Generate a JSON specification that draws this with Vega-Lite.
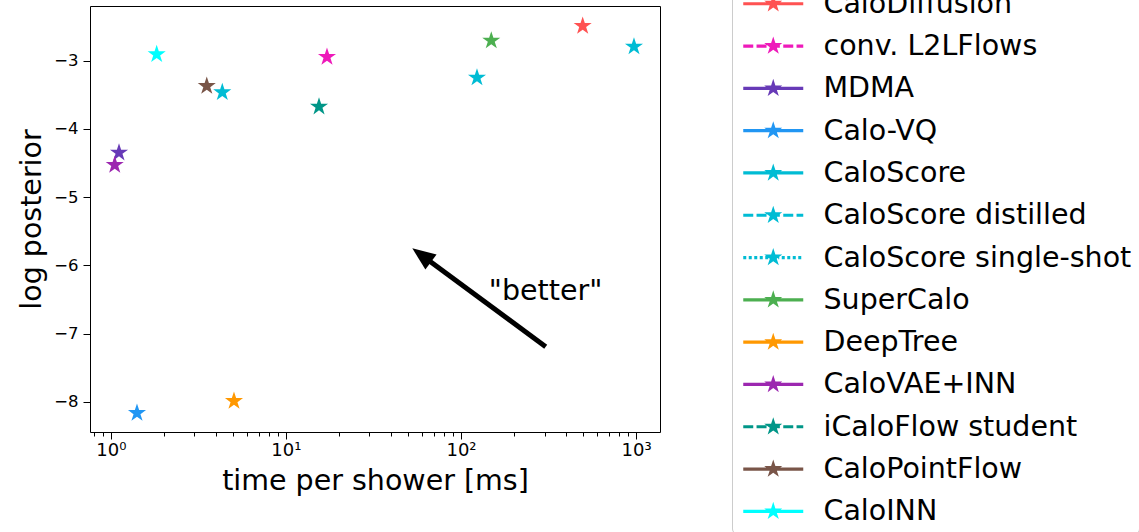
{
  "$schema": "https://vega.github.io/schema/vega-lite/v6.json",
  "width": 570,
  "height": 426,
  "autosize": {"type": "none"},
  "padding": {"left": 90, "top": 6, "right": 479, "bottom": 100},
  "background": "white",
  "config": {
    "view": {"stroke": "black", "strokeWidth": 1},
    "font": "DejaVu Sans",
    "axis": {
      "domain": false,
      "grid": false,
      "tickColor": "black",
      "tickWidth": 1,
      "labelColor": "black",
      "titleColor": "black",
      "labelFont": "DejaVu Sans",
      "titleFont": "DejaVu Sans",
      "labelFontSize": 16.5,
      "titleFontSize": 28.5,
      "titleFontWeight": "normal"
    }
  },
  "datasets": {
    "models": [
      {"model": "CaloDiffusion", "time_ms": 495.5, "log_posterior": -2.493},
      {"model": "conv. L2LFlows", "time_ms": 17.16, "log_posterior": -2.947},
      {"model": "MDMA", "time_ms": 1.113, "log_posterior": -4.349},
      {"model": "Calo-VQ", "time_ms": 1.41, "log_posterior": -8.162},
      {"model": "CaloScore", "time_ms": 973, "log_posterior": -2.796},
      {"model": "CaloScore distilled", "time_ms": 123.4, "log_posterior": -3.25},
      {"model": "CaloScore single-shot", "time_ms": 4.33, "log_posterior": -3.464},
      {"model": "SuperCalo", "time_ms": 148.9, "log_posterior": -2.708},
      {"model": "DeepTree", "time_ms": 5.05, "log_posterior": -7.986},
      {"model": "CaloVAE+INN", "time_ms": 1.052, "log_posterior": -4.529},
      {"model": "iCaloFlow student", "time_ms": 15.45, "log_posterior": -3.675},
      {"model": "CaloPointFlow", "time_ms": 3.53, "log_posterior": -3.372},
      {"model": "CaloINN", "time_ms": 1.827, "log_posterior": -2.907}
    ]
  },
  "resolve": {"axis": {"x": "independent"}},
  "layer": [
    {
      "data": {"name": "models"},
      "mark": {"type": "point", "filled": true, "size": 0, "opacity": 1, "strokeWidth": 0},
      "encoding": {
        "color": {
          "field": "model",
          "type": "nominal",
          "scale": {
            "domain": ["CaloDiffusion", "conv. L2LFlows", "MDMA", "Calo-VQ", "CaloScore", "CaloScore distilled", "CaloScore single-shot", "SuperCalo", "DeepTree", "CaloVAE+INN", "iCaloFlow student", "CaloPointFlow", "CaloINN"],
            "range": ["#ff5252", "#ee1aba", "#673ab7", "#2196f3", "#00bcd4", "#00bcd4", "#00bcd4", "#4caf50", "#ff9800", "#9c27b0", "#009688", "#795548", "#00ffff"]
          },
          "legend": {
            "title": null, "orient": "none", "legendX": 642, "legendY": -23.5, "padding": 7,
            "strokeColor": "#cccccc", "cornerRadius": 5, "fillColor": "white",
            "labelFont": "DejaVu Sans", "labelFontSize": 28.5, "labelColor": "black", "labelOffset": 56, "labelLimit": 800,
            "symbolSize": 400, "rowPadding": 13.3, "symbolStrokeWidth": 0, "symbolOpacity": 1
          }
        },
        "shape": {
          "field": "model",
          "type": "nominal",
          "scale": {
            "domain": ["CaloDiffusion", "conv. L2LFlows", "MDMA", "Calo-VQ", "CaloScore", "CaloScore distilled", "CaloScore single-shot", "SuperCalo", "DeepTree", "CaloVAE+INN", "iCaloFlow student", "CaloPointFlow", "CaloINN"],
            "range": [
              "M-1,-0.16L5,-0.16L5,0.16L-1,0.16ZM2,-0.95L2.2134,-0.2937L2.9035,-0.2936L2.3452,0.1122L2.5584,0.7686L2,0.363L1.4416,0.7686L1.6548,0.1122L1.0965,-0.2936L1.7866,-0.2937Z",
              "M-1,-0.16L0,-0.16L0,0.16L-1,0.16ZM0.33,-0.16L1.33,-0.16L1.33,0.16L0.33,0.16ZM1.66,-0.16L2.66,-0.16L2.66,0.16L1.66,0.16ZM3,-0.16L4,-0.16L4,0.16L3,0.16ZM4.33,-0.16L5,-0.16L5,0.16L4.33,0.16ZM2,-0.95L2.2134,-0.2937L2.9035,-0.2936L2.3452,0.1122L2.5584,0.7686L2,0.363L1.4416,0.7686L1.6548,0.1122L1.0965,-0.2936L1.7866,-0.2937Z",
              "M-1,-0.16L5,-0.16L5,0.16L-1,0.16ZM2,-0.95L2.2134,-0.2937L2.9035,-0.2936L2.3452,0.1122L2.5584,0.7686L2,0.363L1.4416,0.7686L1.6548,0.1122L1.0965,-0.2936L1.7866,-0.2937Z",
              "M-1,-0.16L5,-0.16L5,0.16L-1,0.16ZM2,-0.95L2.2134,-0.2937L2.9035,-0.2936L2.3452,0.1122L2.5584,0.7686L2,0.363L1.4416,0.7686L1.6548,0.1122L1.0965,-0.2936L1.7866,-0.2937Z",
              "M-1,-0.16L5,-0.16L5,0.16L-1,0.16ZM2,-0.95L2.2134,-0.2937L2.9035,-0.2936L2.3452,0.1122L2.5584,0.7686L2,0.363L1.4416,0.7686L1.6548,0.1122L1.0965,-0.2936L1.7866,-0.2937Z",
              "M-1,-0.16L0,-0.16L0,0.16L-1,0.16ZM0.33,-0.16L1.33,-0.16L1.33,0.16L0.33,0.16ZM1.66,-0.16L2.66,-0.16L2.66,0.16L1.66,0.16ZM3,-0.16L4,-0.16L4,0.16L3,0.16ZM4.33,-0.16L5,-0.16L5,0.16L4.33,0.16ZM2,-0.95L2.2134,-0.2937L2.9035,-0.2936L2.3452,0.1122L2.5584,0.7686L2,0.363L1.4416,0.7686L1.6548,0.1122L1.0965,-0.2936L1.7866,-0.2937Z",
              "M-1,-0.16L-0.7,-0.16L-0.7,0.16L-1,0.16ZM-0.45,-0.16L-0.15,-0.16L-0.15,0.16L-0.45,0.16ZM0.1,-0.16L0.4,-0.16L0.4,0.16L0.1,0.16ZM0.65,-0.16L0.95,-0.16L0.95,0.16L0.65,0.16ZM1.2,-0.16L1.5,-0.16L1.5,0.16L1.2,0.16ZM2.5,-0.16L2.6,-0.16L2.6,0.16L2.5,0.16ZM2.85,-0.16L3.15,-0.16L3.15,0.16L2.85,0.16ZM3.4,-0.16L3.7,-0.16L3.7,0.16L3.4,0.16ZM3.95,-0.16L4.25,-0.16L4.25,0.16L3.95,0.16ZM4.5,-0.16L4.8,-0.16L4.8,0.16L4.5,0.16ZM2,-0.95L2.2134,-0.2937L2.9035,-0.2936L2.3452,0.1122L2.5584,0.7686L2,0.363L1.4416,0.7686L1.6548,0.1122L1.0965,-0.2936L1.7866,-0.2937Z",
              "M-1,-0.16L5,-0.16L5,0.16L-1,0.16ZM2,-0.95L2.2134,-0.2937L2.9035,-0.2936L2.3452,0.1122L2.5584,0.7686L2,0.363L1.4416,0.7686L1.6548,0.1122L1.0965,-0.2936L1.7866,-0.2937Z",
              "M-1,-0.16L5,-0.16L5,0.16L-1,0.16ZM2,-0.95L2.2134,-0.2937L2.9035,-0.2936L2.3452,0.1122L2.5584,0.7686L2,0.363L1.4416,0.7686L1.6548,0.1122L1.0965,-0.2936L1.7866,-0.2937Z",
              "M-1,-0.16L5,-0.16L5,0.16L-1,0.16ZM2,-0.95L2.2134,-0.2937L2.9035,-0.2936L2.3452,0.1122L2.5584,0.7686L2,0.363L1.4416,0.7686L1.6548,0.1122L1.0965,-0.2936L1.7866,-0.2937Z",
              "M-1,-0.16L0,-0.16L0,0.16L-1,0.16ZM0.33,-0.16L1.33,-0.16L1.33,0.16L0.33,0.16ZM1.66,-0.16L2.66,-0.16L2.66,0.16L1.66,0.16ZM3,-0.16L4,-0.16L4,0.16L3,0.16ZM4.33,-0.16L5,-0.16L5,0.16L4.33,0.16ZM2,-0.95L2.2134,-0.2937L2.9035,-0.2936L2.3452,0.1122L2.5584,0.7686L2,0.363L1.4416,0.7686L1.6548,0.1122L1.0965,-0.2936L1.7866,-0.2937Z",
              "M-1,-0.16L5,-0.16L5,0.16L-1,0.16ZM2,-0.95L2.2134,-0.2937L2.9035,-0.2936L2.3452,0.1122L2.5584,0.7686L2,0.363L1.4416,0.7686L1.6548,0.1122L1.0965,-0.2936L1.7866,-0.2937Z",
              "M-1,-0.16L5,-0.16L5,0.16L-1,0.16ZM2,-0.95L2.2134,-0.2937L2.9035,-0.2936L2.3452,0.1122L2.5584,0.7686L2,0.363L1.4416,0.7686L1.6548,0.1122L1.0965,-0.2936L1.7866,-0.2937Z"
            ]
          },
          "legend": {
            "title": null, "orient": "none", "legendX": 642, "legendY": -23.5, "padding": 7,
            "strokeColor": "#cccccc", "cornerRadius": 5, "fillColor": "white",
            "labelFont": "DejaVu Sans", "labelFontSize": 28.5, "labelColor": "black", "labelOffset": 56, "labelLimit": 800,
            "symbolSize": 400, "rowPadding": 13.3, "symbolStrokeWidth": 0, "symbolOpacity": 1
          }
        }
      }
    },
    {
      "data": {"name": "models"},
      "mark": {
        "type": "point",
        "shape": "M0,-1L0.2245,-0.309L0.9511,-0.309L0.3633,0.118L0.5878,0.809L0,0.382L-0.5878,0.809L-0.3633,0.118L-0.9511,-0.309L-0.2245,-0.309Z",
        "filled": true,
        "size": 361,
        "opacity": 1,
        "strokeWidth": 0
      },
      "encoding": {
        "x": {
          "field": "time_ms",
          "type": "quantitative",
          "scale": {"type": "log", "domain": [0.76, 1370], "nice": false},
          "axis": {
            "orient": "bottom",
            "title": "time per shower [ms]",
            "values": [1, 10, 100, 1000],
            "labelExpr": "datum.value == 1 ? '10⁰' : datum.value == 10 ? '10¹' : datum.value == 100 ? '10²' : '10³'",
            "labelFontSize": 18,
            "tickSize": 7,
            "labelPadding": 2,
            "labelOverlap": false,
            "labelFlush": false,
            "titlePadding": 7
          }
        },
        "y": {
          "field": "log_posterior",
          "type": "quantitative",
          "scale": {"domain": [-8.44, -2.2], "nice": false, "zero": false},
          "axis": {
            "title": "log posterior",
            "values": [-8, -7, -6, -5, -4, -3],
            "format": "d",
            "tickSize": 7,
            "labelPadding": 5,
            "titlePadding": 7
          }
        },
        "color": {"field": "model", "type": "nominal"}
      }
    },
    {
      "data": {"values": [{"time_ms": 304.7, "log_posterior": -7.19, "time_ms_end": 61.8, "log_posterior_end": -5.879}]},
      "mark": {"type": "rule", "color": "black", "strokeWidth": 5, "strokeCap": "butt"},
      "encoding": {
        "x": {
          "field": "time_ms",
          "type": "quantitative",
          "scale": {"type": "log", "domain": [0.76, 1370], "nice": false},
          "axis": {
            "orient": "bottom",
            "title": null,
            "values": [0.8, 0.9, 2, 3, 4, 5, 6, 7, 8, 9, 20, 30, 40, 50, 60, 70, 80, 90, 200, 300, 400, 500, 600, 700, 800, 900],
            "labels": false,
            "tickSize": 4,
            "domain": false
          }
        },
        "y": {"field": "log_posterior", "type": "quantitative", "scale": {"domain": [-8.44, -2.2], "nice": false, "zero": false}},
        "x2": {"field": "time_ms_end"},
        "y2": {"field": "log_posterior_end"}
      }
    },
    {
      "data": {"values": [{"time_ms": 52.7, "log_posterior": -5.749}]},
      "mark": {
        "type": "point",
        "shape": "M0,0L0.94,2.32L-0.94,2.32Z",
        "size": 400,
        "angle": 306.4,
        "filled": true,
        "opacity": 1,
        "color": "black",
        "strokeWidth": 0
      },
      "encoding": {
        "x": {"field": "time_ms", "type": "quantitative", "scale": {"type": "log", "domain": [0.76, 1370], "nice": false}, "axis": null},
        "y": {"field": "log_posterior", "type": "quantitative", "scale": {"domain": [-8.44, -2.2], "nice": false, "zero": false}}
      }
    },
    {
      "data": {"values": [{"time_ms": 304, "log_posterior": -6.507, "label": "\"better\""}]},
      "mark": {"type": "text", "align": "center", "baseline": "alphabetic", "font": "DejaVu Sans", "fontSize": 28.5, "color": "black"},
      "encoding": {
        "x": {"field": "time_ms", "type": "quantitative", "scale": {"type": "log", "domain": [0.76, 1370], "nice": false}, "axis": null},
        "y": {"field": "log_posterior", "type": "quantitative", "scale": {"domain": [-8.44, -2.2], "nice": false, "zero": false}},
        "text": {"field": "label"}
      }
    }
  ]
}
